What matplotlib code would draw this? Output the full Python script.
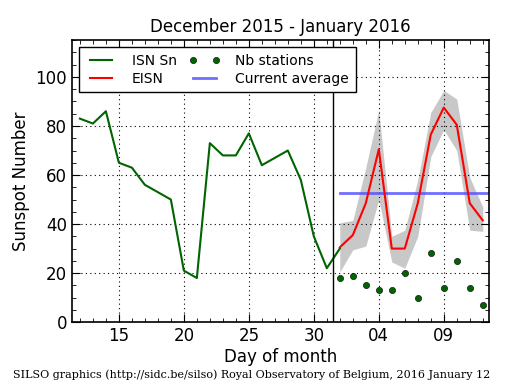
import matplotlib
matplotlib.use("Agg")
import matplotlib.pyplot as plt
from matplotlib.ticker import MultipleLocator, FixedLocator

# Day index: December days as-is, January days offset by 31
isn_days = list(range(12, 33))
isn_values = [83, 81, 86, 65, 63, 56, 53, 50, 21, 18, 73, 68, 68, 77, 64, 67, 70, 58, 35, 22, 30]

jan_days = list(range(1, 13))
eisn_values = [30.5, 35.5, 48.5, 70.5, 30, 30, 48.5, 76.5, 87.5, 80.5, 48.5, 41.5]
eisn_upper = [40.5, 41.5, 63, 86.5, 35, 37.5, 58, 85.5, 94.5, 91, 59, 47]
eisn_lower = [20.5, 29.5, 31, 50, 24.5, 22, 35, 67.5, 78.5, 70, 37.5, 37]
nb_stations = [18, 19, 15, 13, 13, 20, 10, 28, 14, 25, 14, 7]

current_average = 52.5

xtick_pos = [15, 20, 25, 30, 35, 40]
xtick_labels = ["15", "20", "25", "30", "04", "09"]

jan_x = [31 + d for d in jan_days]

fig = plt.figure(figsize=(5.15, 3.9), dpi=100)
ax = fig.add_axes([0.140, 0.174, 0.810, 0.723])

ax.fill_between(jan_x, eisn_lower, eisn_upper, color="#c8c8c8", linewidth=0, zorder=1)
ax.plot(isn_days, isn_values, color="#006400", linewidth=1.5, label="ISN Sn", zorder=3)
ax.plot(jan_x, eisn_values, color="red", linewidth=1.5, label="EISN", zorder=4)
ax.plot(jan_x, nb_stations, linestyle="none", marker="o", markersize=4.5,
        color="#006400", markeredgecolor="black", markeredgewidth=0.4,
        label="Nb stations", zorder=4)
ax.plot([jan_x[0], 44], [current_average] * 2, color="#5555ff", alpha=0.85,
        linewidth=2, label="Current average", zorder=2)
ax.axvline(31.5, color="black", linewidth=1, zorder=5)

ax.set_xlim(11.4, 43.5)
ax.set_ylim(0, 115)
ax.xaxis.set_major_locator(FixedLocator(xtick_pos))
ax.set_xticklabels(xtick_labels)
ax.xaxis.set_minor_locator(MultipleLocator(1))
ax.yaxis.set_major_locator(MultipleLocator(20))
ax.yaxis.set_minor_locator(MultipleLocator(5))
ax.tick_params(which="both", direction="in", top=True, right=True, labelsize=12)
ax.tick_params(which="major", length=6)
ax.tick_params(which="minor", length=3)
ax.grid(True, which="major", color="black", linestyle=(0, (1, 3)), linewidth=0.8)
for s in ax.spines.values():
    s.set_linewidth(1.2)

ax.set_title("December 2015 - January 2016", fontsize=12)
ax.set_ylabel("Sunspot Number", fontsize=12)
ax.set_xlabel("Day of month", fontsize=12, labelpad=2)

leg = ax.legend(loc="upper left", ncol=2, numpoints=2, fontsize=10,
                fancybox=False, framealpha=1, edgecolor="black",
                borderaxespad=0.5, handlelength=2.2, handletextpad=1.1,
                columnspacing=0.9, labelspacing=0.25, borderpad=0.5)
leg.get_frame().set_linewidth(1.0)

fig.text(0.488, 0.025, "SILSO graphics (http://sidc.be/silso) Royal Observatory of Belgium, 2016 January 12",
         ha="center", va="bottom", fontsize=8, family="DejaVu Serif")

fig.savefig("out.png", dpi=100)
